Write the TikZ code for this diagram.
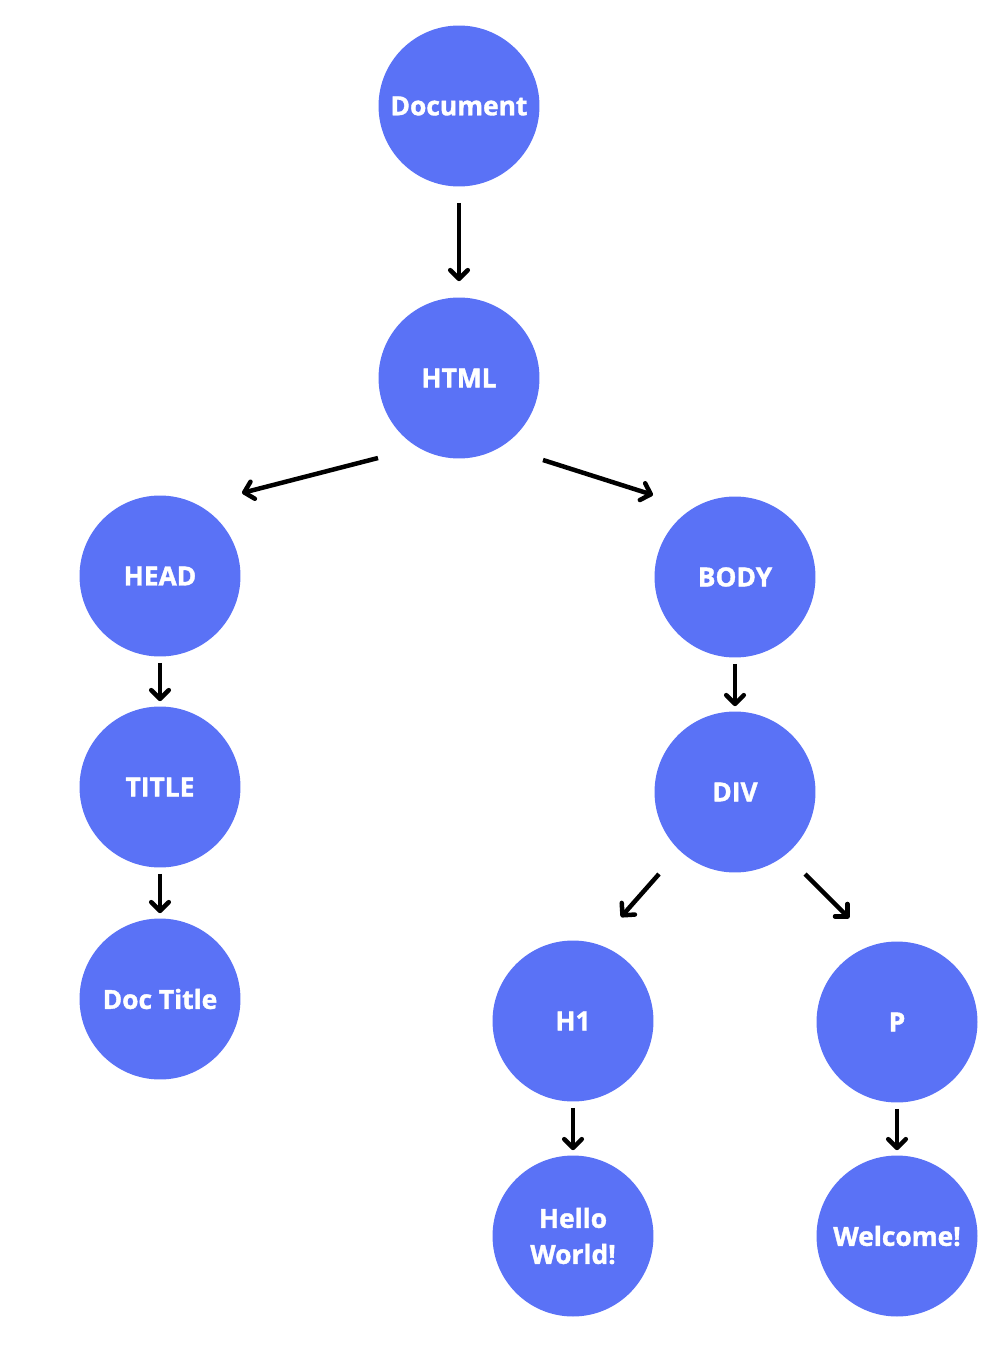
\documentclass[tikz,border=0pt]{standalone}
\usepackage{fontspec}
\setmainfont{Open Sans}[BoldFeatures={FakeBold=1.4}]
\usetikzlibrary{arrows.meta}
\definecolor{nodeblue}{RGB}{90,114,246}

\begin{document}
\begin{tikzpicture}[x=0.02cm,y=-0.02cm,
  dom/.style={circle,fill=nodeblue,minimum size=3.22cm,inner sep=0pt,text=white,align=center,
    font=\fontsize{15}{20.5}\selectfont\bfseries},
  arr/.style={line width=0.09cm,-{Straight Barb[length=5pt,width=10pt,round]}},
  down/.style={arr,shorten <=0.12cm,shorten >=0.1cm}]
  \useasboundingbox (0,0) rectangle (1002,1364);
  \node[dom] (doc) at (459,106) {Document};
  \node[dom] (html) at (459,378) {HTML};
  \node[dom] (head) at (160,576) {HEAD};
  \node[dom] (body) at (735,577) {BODY};
  \node[dom] (title) at (160,787) {TITLE};
  \node[dom] (div) at (735,792) {DIV};
  \node[dom] (doctitle) at (160,999) {Doc Title};
  \node[dom] (h1) at (573,1021) {H1};
  \node[dom] (p) at (897,1022) {P};
  \node[dom] (hello) at (573,1236) {Hello\\World!};
  \node[dom] (welcome) at (897,1236) {Welcome!};
  \draw[arr,shorten <=0.32cm,shorten >=0.32cm] (doc) -- (html);
  \draw[arr] ([shift={(-81,80)}]html.center) -- ([shift={(82,-83)}]head.center);
  \draw[arr] ([shift={(84,82)}]html.center) -- ([shift={(-82,-82)}]body.center);
  \draw[down] (head) -- (title);
  \draw[down] (title) -- (doctitle);
  \draw[down] (body) -- (div);
  \draw[arr] ([shift={(-76,82)}]div.center) -- ([shift={(48,-104)}]h1.center);
  \draw[arr] ([shift={(70,82)}]div.center) -- ([shift={(-48,-104)}]p.center);
  \draw[down] (h1) -- (hello);
  \draw[down] (p) -- (welcome);
\end{tikzpicture}
\end{document}
